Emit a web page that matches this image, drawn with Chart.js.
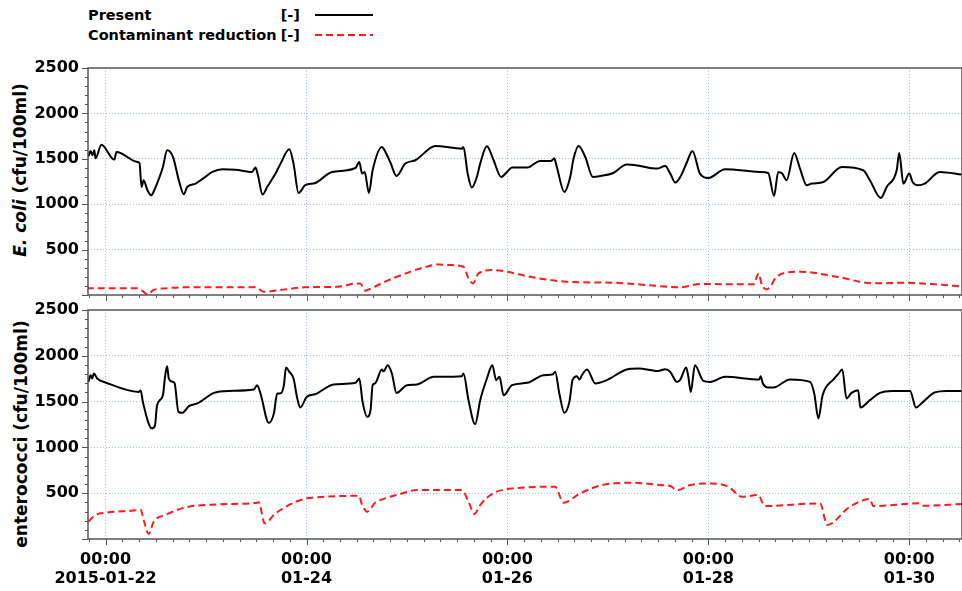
<!DOCTYPE html>
<html>
<head>
<meta charset="utf-8">
<script src="https://cdn.jsdelivr.net/npm/chart.js@4.4.1/dist/chart.umd.min.js"></script>
<style>
  body { margin: 0; background: #fff; font-family: 'DejaVu Sans', sans-serif; }
  #wrap { position: relative; width: 962px; height: 591px; overflow: hidden; }
  canvas { position: absolute; left: 0; }
  .row { position: absolute; left: 88px; width: 212px; font-weight: bold; font-size: 14.5px; line-height: 20px; }
  .row span { float: left; }
  .row span.unit { float: right; }
  .ylab { position: absolute; font-weight: bold; font-size: 17px; white-space: nowrap;
          transform: translate(-50%, -50%) rotate(-90deg); }
</style>
</head>
<body>
<div id="wrap">
  <div class="row" style="top:5px"><span>Present</span><span class="unit">[-]</span></div>
  <div class="row" style="top:25px"><span>Contaminant reduction</span><span class="unit">[-]</span></div>
  <svg style="position:absolute;left:0;top:0" width="400" height="45">
    <line x1="315" y1="15" x2="373" y2="15" stroke="#000" stroke-width="2"/>
    <line x1="315" y1="35" x2="373" y2="35" stroke="#ff1a1a" stroke-width="2" stroke-dasharray="7,4"/>
  </svg>
  <div class="ylab" style="left:20px;top:170px"><i>E. coli</i> (cfu/100ml)</div>
  <div class="ylab" style="left:21px;top:434px">enterococci (cfu/100ml)</div>
  <canvas id="top" width="962" height="247" style="top:58px"></canvas>
  <canvas id="bottom" width="962" height="291" style="top:300px"></canvas>
</div>
<script>
// hours since 2015-01-22 00:00
var xMin = -4.2, xMax = 204.6;
var dayLabels = ['2015-01-22', '01-24', '01-26', '01-28', '01-30'];

var ecoliPresent = [[-4.4,1557],[-4.1,1530],[-3.6,1585],[-3.1,1540],[-2.7,1595],[-2.4,1505],[-1.0,1656],[2.1,1491],[2.6,1575],
  [7.6,1465],[8.1,1454],[8.6,1190],[9.1,1264],[10.0,1154],[10.9,1099],[11.7,1161],[12.9,1300],[13.7,1410],[14.7,1593],
  [16.1,1520],[17.5,1264],[18.7,1110],[19.5,1190],[21.5,1227],[23.5,1290],[25.5,1355],[27.9,1385],[31.0,1380],[35.0,1355],
  [35.8,1403],[36.4,1319],[37.5,1107],[38.6,1190],[40.6,1337],[41.8,1447],[43.9,1604],[44.9,1447],[46.1,1124],[47.7,1209],
  [50.1,1234],[54.1,1355],[59.7,1399],[60.6,1465],[61.3,1337],[61.9,1355],[62.9,1124],[63.8,1374],[66.0,1630],[66.4,1612],
  [68.0,1465],[69.5,1311],[71.6,1447],[74.0,1484],[78.8,1641],[85.1,1612],[85.5,1630],[86.5,1337],[87.5,1183],[88.7,1300],
  [89.5,1447],[91.1,1637],[92.7,1484],[94.5,1300],[95.9,1355],[97.1,1403],[100.7,1403],[103.8,1476],[106.4,1476],[107.2,1502],
  [107.8,1410],[109.6,1135],[111.0,1300],[111.8,1502],[113.0,1641],[114.6,1520],[116.4,1300],[118.2,1311],[121.3,1344],
  [124.5,1436],[127.7,1421],[131.7,1392],[133.7,1421],[134.9,1337],[136.1,1238],[137.3,1300],[138.9,1465],[140.2,1586],
  [142.0,1337],[144.0,1289],[148.0,1385],[156.3,1355],[158.3,1344],[159.7,1091],[160.7,1355],[161.6,1340],[162.7,1264],
  [164.5,1564],[165.9,1392],[167.5,1209],[168.7,1227],[171.5,1245],[175.9,1410],[181.0,1374],[182.6,1264],[185.2,1069],
  [186.6,1190],[189.0,1374],[189.6,1564],[190.6,1227],[192.0,1337],[192.8,1245],[194.1,1209],[195.7,1227],[199.3,1355],
  [204.6,1326]];

var ecoliReduction = [[-4.5,73],[7.4,73],[8.8,45],[10.0,8],[11.5,55],[14.3,73],[19.1,85],[35.8,85],[37.8,37],[43.0,62],
  [47.7,85],[55.7,92],[60.1,128],[60.9,125],[62.1,48],[63.3,70],[65.6,121],[66.8,147],[69.6,201],[74.4,282],[76.5,310],
  [79.6,337],[82.0,330],[85.5,311],[86.7,183],[87.8,128],[89.1,238],[92.7,275],[95.9,256],[101.4,201],[110.2,146],
  [121.3,135],[129.3,110],[137.3,85],[142.0,121],[154.8,117],[156.0,238],[156.8,110],[158.0,62],[160.3,201],[162.3,245],
  [165.9,256],[174.7,201],[183.4,128],[190.6,135],[198.5,117],[204.6,92]];

var enteroPresent = [[-4.1,1715],[-3.6,1788],[-3.2,1752],[-2.8,1807],[-2.0,1752],[0.0,1709],[7.9,1606],[8.4,1620],[8.9,1497],
  [11.1,1207],[11.8,1240],[12.3,1461],[13.7,1570],[14.2,1770],[14.7,1887],[15.1,1752],[16.1,1715],[16.5,1700],[17.4,1388],
  [18.3,1377],[19.9,1450],[21.9,1480],[25.9,1595],[29.4,1617],[35.4,1632],[36.2,1679],[37.0,1589],[39.0,1268],[40.2,1370],
  [41.0,1589],[41.8,1590],[42.6,1679],[43.1,1872],[43.9,1825],[44.9,1752],[45.8,1534],[46.5,1436],[48.1,1552],[50.1,1581],
  [54.5,1687],[59.7,1705],[60.6,1752],[61.4,1497],[62.5,1334],[63.3,1407],[63.8,1679],[64.4,1700],[66.0,1851],[66.4,1830],
  [67.4,1897],[68.4,1807],[69.5,1595],[72.0,1679],[74.4,1687],[78.4,1770],[85.1,1778],[85.5,1807],[86.7,1516],[88.3,1254],
  [89.5,1516],[91.1,1752],[92.4,1897],[93.3,1734],[94.1,1770],[95.1,1570],[97.1,1679],[100.7,1705],[104.6,1788],[106.9,1799],
  [107.4,1825],[108.4,1589],[109.6,1377],[110.8,1497],[111.6,1742],[112.6,1778],[113.2,1740],[113.8,1788],[115.0,1851],
  [117.0,1698],[119.7,1734],[124.5,1851],[127.3,1862],[132.1,1835],[133.7,1854],[134.9,1825],[136.5,1715],[137.3,1740],
  [138.7,1872],[139.2,1780],[139.8,1606],[140.8,1897],[142.8,1726],[144.4,1715],[148.0,1770],[156.2,1742],[156.5,1778],
  [157.0,1700],[158.3,1654],[159.5,1654],[163.5,1742],[168.3,1715],[169.3,1589],[170.3,1316],[171.3,1570],[173.9,1742],
  [175.0,1799],[176.0,1851],[177.0,1534],[178.2,1595],[179.8,1625],[180.3,1436],[182.6,1516],[185.0,1595],[187.8,1617],
  [192.2,1617],[193.6,1436],[195.3,1497],[198.1,1600],[200.9,1617],[204.6,1617]];

var enteroReduction = [[-4.1,189],[-2.4,262],[0.0,287],[7.9,316],[8.4,320],[9.1,207],[10.3,55],[11.5,189],[14.3,262],
  [19.1,345],[27.0,378],[36.2,396],[36.6,400],[38.0,171],[40.6,280],[44.6,389],[48.1,444],[52.5,461],[60.5,472],[61.3,371],
  [62.5,298],[64.4,396],[66.8,444],[70.4,491],[74.4,534],[85.1,534],[86.7,407],[88.1,273],[89.5,371],[92.3,491],[97.5,553],
  [107.4,570],[109.4,396],[113.4,498],[118.6,589],[126.1,614],[132.5,589],[134.9,578],[136.5,534],[139.7,589],[144.4,607],
  [148.8,570],[152.0,461],[155.9,480],[157.5,360],[170.7,389],[172.4,153],[177.8,352],[182.6,436],[183.4,360],[194.5,389],
  [195.3,363],[204.6,382]];

var gridColor = '#9fc5f0';

Chart.defaults.font.family = "'DejaVu Sans', sans-serif";
Chart.defaults.font.size = 16;
Chart.defaults.font.weight = 'bold';
Chart.defaults.color = '#000';

// frame and minor/major tick marks
var frame = {
  id: 'frame',
  afterDraw: function (chart) {
    var ctx = chart.ctx, a = chart.chartArea, x = chart.scales.x, y = chart.scales.y;
    ctx.save();
    ctx.strokeStyle = '#555';
    ctx.lineWidth = 1;
    ctx.beginPath();
    for (var h = Math.ceil(xMin / 4) * 4; h <= xMax; h += 4) {
      var px = Math.round(x.getPixelForValue(h)) + 0.5;
      ctx.moveTo(px, a.bottom);
      ctx.lineTo(px, a.bottom + (h % 48 === 0 ? 6 : 3));
    }
    for (var v = 0; v <= 2500; v += 100) {
      var py = Math.round(y.getPixelForValue(v)) + 0.5;
      ctx.moveTo(a.left - (v % 500 === 0 ? 6 : 3), py);
      ctx.lineTo(a.left, py);
    }
    ctx.stroke();
    ctx.lineWidth = 1.5;
    ctx.strokeRect(a.left, a.top, a.right - a.left, a.bottom - a.top);
    ctx.restore();
  }
};

var toPoints = function (series) {
  return series.map(function (p) { return {x: p[0], y: p[1]}; });
};

var makeChart = function (id, present, reduction, showDates, padTop, padBottom) {
  return new Chart(document.getElementById(id), {
    type: 'line',
    data: {
      datasets: [
        {label: 'Present', data: toPoints(present), borderColor: '#000', borderWidth: 2, pointRadius: 0,
          cubicInterpolationMode: 'monotone'},
        {label: 'Contaminant reduction', data: toPoints(reduction), borderColor: '#ff1a1a', borderWidth: 2,
          borderDash: [7, 4], pointRadius: 0, cubicInterpolationMode: 'monotone'}
      ]
    },
    options: {
      responsive: false,
      animation: false,
      devicePixelRatio: 1,
      layout: {autoPadding: false, padding: {top: padTop, bottom: padBottom, left: 0, right: 0}},
      plugins: {legend: {display: false}, tooltip: {enabled: false}},
      scales: {
        x: {
          type: 'linear',
          min: xMin,
          max: xMax,
          afterFit: function (s) {
            s.height = showDates ? 52 : 0;
            s.paddingLeft = 0;
            s.paddingRight = 0;
          },
          ticks: {
            display: showDates,
            stepSize: 4,
            autoSkip: false,
            maxRotation: 0,
            padding: 11,
            callback: function (v) { return v % 48 === 0 ? ['00:00', dayLabels[v / 48]] : ''; }
          },
          grid: {
            drawTicks: false,
            color: function (c) { return c.tick && c.tick.value % 48 === 0 ? gridColor : 'rgba(0,0,0,0)'; }
          },
          border: {display: false, dash: [1, 2]}
        },
        y: {
          min: 0,
          max: 2500,
          afterFit: function (s) {
            s.width = 88;
            s.paddingTop = 0;
            s.paddingBottom = 0;
          },
          ticks: {
            stepSize: 500,
            padding: 9,
            callback: function (v) { return v === 0 ? '' : v; }
          },
          grid: {
            drawTicks: false,
            color: function (c) { return c.tick && c.tick.value > 0 && c.tick.value < 2500 ? gridColor : 'rgba(0,0,0,0)'; }
          },
          border: {display: false, dash: [1, 2]}
        }
      }
    },
    plugins: [frame]
  });
};

makeChart('top', ecoliPresent, ecoliReduction, false, 10, 10);
makeChart('bottom', enteroPresent, enteroReduction, true, 10, 0);
</script>
</body>
</html>
